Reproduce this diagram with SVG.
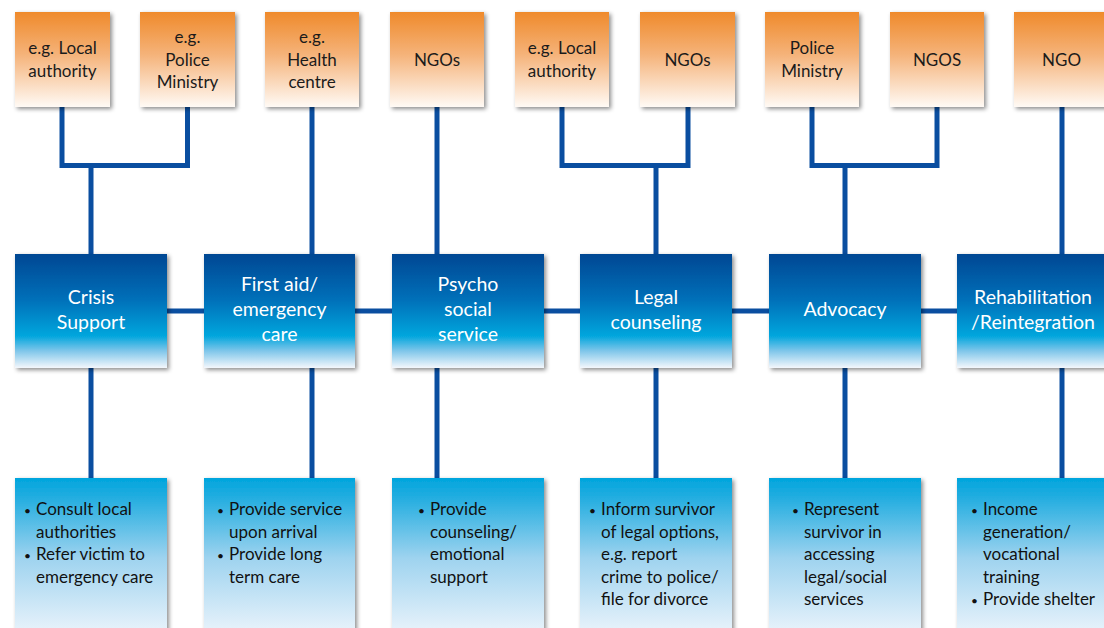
<svg xmlns="http://www.w3.org/2000/svg" width="1104" height="628" viewBox="0 0 1104 628">
<defs>
<linearGradient id="gTop" x1="0" y1="0" x2="0" y2="1">
<stop offset="0" stop-color="#EF8A2B"/>
<stop offset="0.45" stop-color="#F5B37A"/>
<stop offset="1" stop-color="#FFFAF5"/>
</linearGradient>
<linearGradient id="gMid" x1="0" y1="0" x2="0" y2="1">
<stop offset="0" stop-color="#034793"/>
<stop offset="0.4" stop-color="#0070B9"/>
<stop offset="0.72" stop-color="#03A6DD"/>
<stop offset="0.85" stop-color="#7FC6EA"/>
<stop offset="1" stop-color="#F4F7FC"/>
</linearGradient>
<linearGradient id="gBot" x1="0" y1="0" x2="0" y2="1">
<stop offset="0" stop-color="#00A5DD"/>
<stop offset="0.12" stop-color="#22ADE0"/>
<stop offset="0.5" stop-color="#9ED3EF"/>
<stop offset="1" stop-color="#EEF5FC"/>
</linearGradient>
<filter id="sh" x="-10%" y="-10%" width="125%" height="125%">
<feDropShadow dx="2" dy="2" stdDeviation="2" flood-color="#000" flood-opacity="0.45"/>
</filter>
</defs>
<style>
.top{fill:url(#gTop);filter:url(#sh)}
.mid{fill:url(#gMid);filter:url(#sh)}
.bot{fill:url(#gBot);filter:url(#sh)}
.tt{font-family:Lato,"Liberation Sans",sans-serif;font-size:17px;fill:#1b1b1b;text-anchor:middle}
.mt{font-family:Lato,"Liberation Sans",sans-serif;font-size:19.5px;fill:#ffffff;text-anchor:middle}
.bt{font-family:Lato,"Liberation Sans",sans-serif;font-size:17px;fill:#111111}
.bu{font-family:Lato,"Liberation Sans",sans-serif;font-size:12px;fill:#111111}
.con{fill:none;stroke:#0A4EA0;stroke-width:5}
</style>
<rect width="1104" height="628" fill="#ffffff"/>
<g id="connectors" class="con">
<path d="M62,107 V165.5 H187.5 V107 M91,165.5 V254"/>
<path d="M312,107 V254"/>
<path d="M437,107 V254"/>
<path d="M562,107 V165.5 H688 V107 M656,165.5 V254"/>
<path d="M812,107 V165.5 H937 V107 M845,165.5 V254"/>
<path d="M1062,107 V254"/>
<path d="M91,311 H1062"/>
<path d="M91,368 V478 M312,368 V478 M437,368 V478 M656,368 V478 M845,368 V478 M1062,368 V478"/>
</g>
<g id="top1"><rect class="top" x="15" y="12" width="95" height="95"/><text class="tt" x="62.5" y="54">e.g. Local</text><text class="tt" x="62.5" y="77">authority</text></g>
<g id="top2"><rect class="top" x="140" y="12" width="95" height="95"/><text class="tt" x="187.5" y="43">e.g.</text><text class="tt" x="187.5" y="66">Police</text><text class="tt" x="187.5" y="88">Ministry</text></g>
<g id="top3"><rect class="top" x="265" y="12" width="94" height="95"/><text class="tt" x="312" y="43">e.g.</text><text class="tt" x="312" y="66">Health</text><text class="tt" x="312" y="88">centre</text></g>
<g id="top4"><rect class="top" x="390" y="12" width="94" height="95"/><text class="tt" x="437" y="66">NGOs</text></g>
<g id="top5"><rect class="top" x="515" y="12" width="94" height="95"/><text class="tt" x="562" y="54">e.g. Local</text><text class="tt" x="562" y="77">authority</text></g>
<g id="top6"><rect class="top" x="640" y="12" width="95" height="95"/><text class="tt" x="687.5" y="66">NGOs</text></g>
<g id="top7"><rect class="top" x="765" y="12" width="94" height="95"/><text class="tt" x="812" y="54">Police</text><text class="tt" x="812" y="77">Ministry</text></g>
<g id="top8"><rect class="top" x="890" y="12" width="94" height="95"/><text class="tt" x="937" y="66">NGOS</text></g>
<g id="top9"><rect class="top" x="1014" y="12" width="95" height="95"/><text class="tt" x="1061.5" y="66">NGO</text></g>

<g id="mid1"><rect class="mid" x="15" y="254" width="152" height="114"/><text class="mt" x="91" y="304">Crisis</text><text class="mt" x="91" y="329">Support</text></g>
<g id="mid2"><rect class="mid" x="204" y="254" width="151" height="114"/><text class="mt" x="279.5" y="291">First aid/</text><text class="mt" x="279.5" y="316">emergency</text><text class="mt" x="279.5" y="341">care</text></g>
<g id="mid3"><rect class="mid" x="392" y="254" width="152" height="114"/><text class="mt" x="468" y="291">Psycho</text><text class="mt" x="468" y="316">social</text><text class="mt" x="468" y="341">service</text></g>
<g id="mid4"><rect class="mid" x="580" y="254" width="152" height="114"/><text class="mt" x="656" y="304">Legal</text><text class="mt" x="656" y="329">counseling</text></g>
<g id="mid5"><rect class="mid" x="769" y="254" width="152" height="114"/><text class="mt" x="845" y="316">Advocacy</text></g>
<g id="mid6"><rect class="mid" x="957" y="254" width="152" height="114"/><text class="mt" x="1033" y="304">Rehabilitation</text><text class="mt" x="1033" y="329">/Reintegration</text></g>

<g id="bot1"><rect class="bot" x="15" y="478" width="152" height="160"/>
<text class="bu" x="24" y="515">•</text><text class="bt" x="36" y="515">Consult local</text><text class="bt" x="36" y="537.5">authorities</text>
<text class="bu" x="24" y="560">•</text><text class="bt" x="36" y="560">Refer victim to</text><text class="bt" x="36" y="582.5">emergency care</text></g>
<g id="bot2"><rect class="bot" x="204" y="478" width="151" height="160"/>
<text class="bu" x="217" y="515">•</text><text class="bt" x="229" y="515">Provide service</text><text class="bt" x="229" y="537.5">upon arrival</text>
<text class="bu" x="217" y="560">•</text><text class="bt" x="229" y="560">Provide long</text><text class="bt" x="229" y="582.5">term care</text></g>
<g id="bot3"><rect class="bot" x="392" y="478" width="152" height="160"/>
<text class="bu" x="418" y="515">•</text><text class="bt" x="430" y="515">Provide</text><text class="bt" x="430" y="537.5">counseling/</text><text class="bt" x="430" y="560">emotional</text><text class="bt" x="430" y="582.5">support</text></g>
<g id="bot4"><rect class="bot" x="580" y="478" width="152" height="160"/>
<text class="bu" x="589" y="515">•</text><text class="bt" x="601" y="515">Inform survivor</text><text class="bt" x="601" y="537.5">of legal options,</text><text class="bt" x="601" y="560">e.g. report</text><text class="bt" x="601" y="582.5">crime to police/</text><text class="bt" x="601" y="605">file for divorce</text></g>
<g id="bot5"><rect class="bot" x="769" y="478" width="152" height="160"/>
<text class="bu" x="792" y="515">•</text><text class="bt" x="804" y="515">Represent</text><text class="bt" x="804" y="537.5">survivor in</text><text class="bt" x="804" y="560">accessing</text><text class="bt" x="804" y="582.5">legal/social</text><text class="bt" x="804" y="605">services</text></g>
<g id="bot6"><rect class="bot" x="957" y="478" width="152" height="160"/>
<text class="bu" x="971" y="515">•</text><text class="bt" x="983" y="515">Income</text><text class="bt" x="983" y="537.5">generation/</text><text class="bt" x="983" y="560">vocational</text><text class="bt" x="983" y="582.5">training</text>
<text class="bu" x="971" y="605">•</text><text class="bt" x="983" y="605">Provide shelter</text></g>
</svg>
